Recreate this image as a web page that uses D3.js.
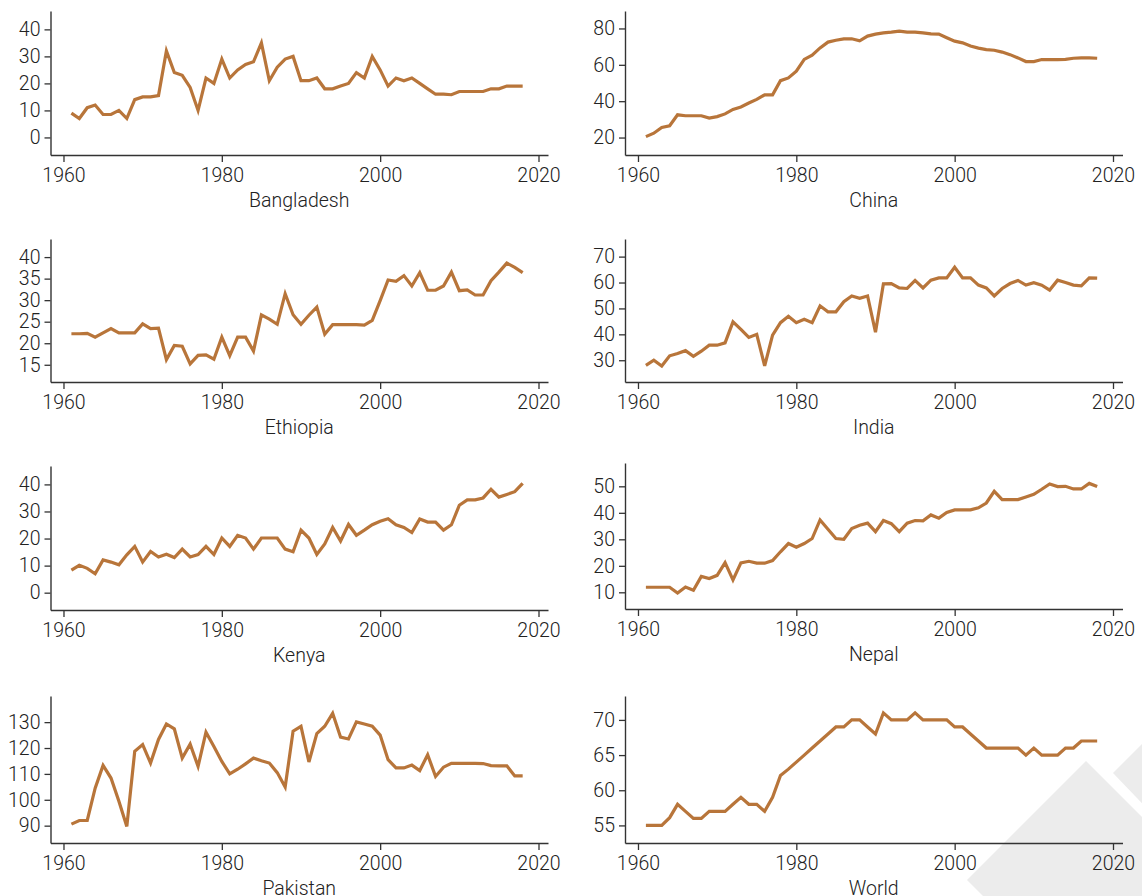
<!DOCTYPE html>
<html><head><meta charset="utf-8">
<script src="https://cdn.jsdelivr.net/npm/d3@7"></script>
<style>
body{margin:0;background:#fff}
svg text{font-family:Roboto,"Liberation Sans",Arial,Helvetica,sans-serif;font-weight:300}
</style>
</head><body>
<svg id="chart" width="1142" height="896"></svg>
<script>
const years = [1961,1962,1963,1964,1965,1966,1967,1968,1969,1970,1971,1972,1973,1974,1975,1976,1977,1978,1979,1980,
1981,1982,1983,1984,1985,1986,1987,1988,1989,1990,1991,1992,1993,1994,1995,1996,1997,1998,1999,2000,
2001,2002,2003,2004,2005,2006,2007,2008,2009,2010,2011,2012,2013,2014,2015,2016,2017,2018];

const bangladesh = [9,7,11,12,8.5,8.5,10,7,14,15, 15,15.5,32,24,23,18.5,10,22,20,29, 22,25,27,28,35,21,26,29,30,21, 21,22,18,18,19,20,24,22,30,25, 19,22,21,22,20,18,16,16,15.8,17, 17,17,17,18,18,19,19,19];
const china = [20.5,22.4,25.5,26.5,32.5,32,32,32,30.7,31.5, 33,35.5,36.8,39,41,43.5,43.5,51.3,52.8,56.5, 63,65.3,69.3,72.5,73.5,74.3,74.3,73.2,75.8,76.9, 77.6,78,78.5,78,78,77.6,77,76.9,74.9,73, 72.1,70.3,69.2,68.4,68,67,65.6,63.8,61.8,61.8, 62.9,62.9,62.9,63,63.6,63.8,63.8,63.6];
const ethiopia = [22.2,22.2,22.3,21.4,22.4,23.4,22.4,22.4,22.4,24.5, 23.4,23.5,16.2,19.5,19.3,15.2,17.2,17.3,16.3,21.4, 17.1,21.4,21.4,18.2,26.6,25.6,24.4,31.5,26.6,24.4, 26.5,28.4,22.1,24.3,24.3,24.3,24.3,24.2,25.3,29.9, 34.7,34.4,35.7,33.3,36.4,32.3,32.3,33.3,36.5,32.2, 32.4,31.2,31.2,34.5,36.5,38.6,37.6,36.4];
const india = [28,30,27.8,31.7,32.6,33.7,31.5,33.5,35.8,35.8, 36.7,44.8,41.9,38.8,40,27.8,39.7,44.5,47,44.5, 45.8,44.5,51,48.7,48.7,52.6,54.8,53.9,54.8,40.8, 59.5,59.6,57.9,57.7,60.8,57.9,60.9,61.8,61.8,65.9, 61.8,61.8,59,57.9,54.8,57.7,59.6,60.8,59,59.9, 59,57.1,60.9,60,59,58.7,61.8,61.7];
const kenya = [8.3,10.1,9,7,12.1,11.3,10.3,14,17.1,11.3, 15.2,13.2,14.2,13,16.1,13.2,14.1,17.1,14.1,20.2, 17.1,21.2,20.2,16.1,20.2,20.2,20.2,16.1,15.1,23.1, 20.2,14.1,18,24.1,19.1,25.2,21.2,23.1,25.1,26.4, 27.3,25.1,24.1,22.2,27.2,26.1,26.1,23.1,25.1,32.3, 34.3,34.3,35,38.2,35.3,36.3,37.3,40.4];
const nepal = [11.9,11.9,11.9,11.9,9.7,12,10.8,16,15.2,16.4, 21.2,14.7,21.1,21.7,21,21,22,25.3,28.4,27, 28.4,30.3,37.3,33.8,30.3,30,34.1,35.3,36.1,32.9, 37.1,35.9,32.9,36.1,37.1,37,39.2,38,40.1,41.1, 41.1,41.1,41.9,43.7,48.1,45,45,45,46,47, 48.9,50.9,49.9,50,49,49,51.1,49.9];
const pakistan = [90.6,92,92,104.5,113.3,108.4,99.4,89.7,118.7,121.3, 114.2,123.3,129.3,127.4,116.1,121.5,112.9,126.1,120.6,114.8, 110,111.8,113.9,116.1,115.1,114.2,110.5,104.9,126.5,128.4, 114.6,125.6,128.4,133.4,124.2,123.5,130.1,129.3,128.4,125, 115.5,112.3,112.3,113.4,111.3,117.4,109,112.6,114.1,114.1, 114.1,114.1,114,113.2,113.1,113.1,109.2,109.2];
const world = [55,55,55,56.1,58,57,56,56,57,57, 57,58,59,58,58,57,59,62.1,63,64, 65,66,67,68,69,69,70,70,69,68, 71,70,70,70,71,70,70,70,70,69, 69,68,67,66,66,66,66,66,65,66, 65,65,65,66,66,67,67,67];

const xTicks = [1960,1980,2000,2020];
const bangladeshTicks = [0,10,20,30,40];
const chinaTicks = [20,40,60,80];
const ethiopiaTicks = [15,20,25,30,35,40];
const indiaTicks = [30,40,50,60,70];
const kenyaTicks = [0,10,20,30,40];
const nepalTicks = [10,20,30,40,50];
const pakistanTicks = [90,100,110,120,130];
const worldTicks = [55,60,65,70];

const names = ["Bangladesh","China","Ethiopia","India","Kenya","Nepal","Pakistan","World"];

// layout
const cols = [[50.5,548],[625,1122.5]];
const panelsCfg = [
  {name:names[0], values:bangladesh, ticks:bangladeshTicks, domain:[-6.5,46.8], col:0, top:11,  bottom:155},
  {name:names[1], values:china,      ticks:chinaTicks,      domain:[10.4,89.6], col:1, top:11,  bottom:155},
  {name:names[2], values:ethiopia,   ticks:ethiopiaTicks,   domain:[11,44.2],   col:0, top:239, bottom:382},
  {name:names[3], values:india,      ticks:indiaTicks,      domain:[21.6,76.8], col:1, top:239, bottom:382},
  {name:names[4], values:kenya,      ticks:kenyaTicks,      domain:[-6.4,46.8], col:0, top:466, bottom:610},
  {name:names[5], values:nepal,      ticks:nepalTicks,      domain:[3.7,58.8],  col:1, top:463, bottom:609},
  {name:names[6], values:pakistan,   ticks:pakistanTicks,   domain:[83.3,140.1],col:0, top:696, bottom:843},
  {name:names[7], values:world,      ticks:worldTicks,      domain:[52.5,73.4], col:1, top:696, bottom:843}
];

const svg = d3.select("#chart");

// watermark decoration (behind)
const wm = svg.append("g").attr("fill","#ececec");
wm.append("polygon").attr("points","1086,761 1205,880 1086,999 967,880");
wm.append("polygon").attr("points","1113,773 1185,701 1260,776 1185,848");

panelsCfg.forEach(p => {
  const [x0,x1] = cols[p.col];
  const x = d3.scaleLinear().domain([1958.36,2021.2]).range([x0,x1]);
  const y = d3.scaleLinear().domain(p.domain).range([p.bottom,p.top]);
  const g = svg.append("g");

  const xa = g.append("g").attr("transform",`translate(0,${p.bottom})`)
    .call(d3.axisBottom(x).tickValues(xTicks).tickFormat(d3.format("d")).tickSize(7).tickSizeOuter(0).tickPadding(6));
  const ya = g.append("g").attr("transform",`translate(${x0},0)`)
    .call(d3.axisLeft(y).tickValues(p.ticks).tickFormat(d3.format("d")).tickSize(6).tickSizeOuter(0).tickPadding(4));
  [xa,ya].forEach(a=>{
    a.select(".domain").attr("stroke","#333").attr("stroke-width",1.4);
    a.selectAll(".tick line").attr("stroke","#333").attr("stroke-width",1.3);
    a.selectAll(".tick text").attr("fill","#222").style("font-size","19.5px");
  });

  const line = d3.line().x((d,i)=>x(years[i])).y(d=>y(d));
  g.append("path").datum(p.values).attr("d",line)
    .attr("fill","none").attr("stroke","#B8753A").attr("stroke-width",3.2);

  g.append("text").attr("x",(x0+x1)/2).attr("y",p.bottom+52)
    .attr("text-anchor","middle").attr("fill","#222").style("font-size","19.5px").text(p.name);
});
</script>
</body></html>
